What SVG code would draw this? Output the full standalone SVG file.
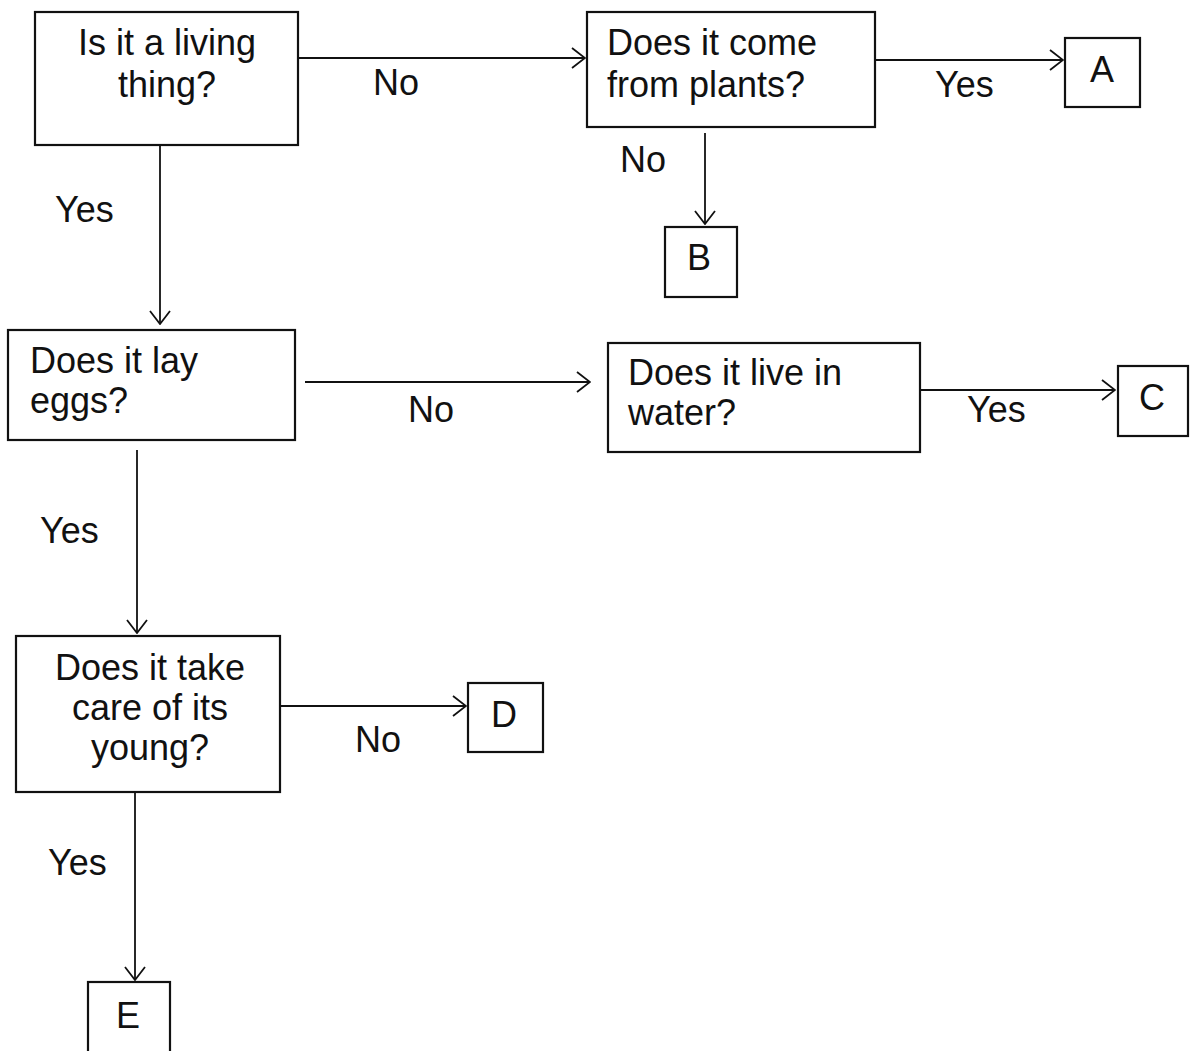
<svg xmlns="http://www.w3.org/2000/svg" width="1193" height="1051" viewBox="0 0 1193 1051">
<style>
.box{fill:#fff;stroke:#111;stroke-width:2.2}
.t{font-family:"Liberation Sans",Arial,sans-serif;font-size:36px;fill:#111}
.c{text-anchor:middle}
.edge{fill:none;stroke:#111;stroke-width:1.8}
</style>
<defs>
<marker id="ah" viewBox="0 0 15 22" refX="14" refY="11" markerWidth="15" markerHeight="22" markerUnits="userSpaceOnUse" orient="auto">
<path d="M1,1 L14,11 L1,21" fill="none" stroke="#111" stroke-width="1.8"/>
</marker>
</defs>
<rect width="1193" height="1051" fill="#fff"/>
<g id="connectors">
<line class="edge" x1="298" y1="58" x2="585" y2="58" marker-end="url(#ah)"/>
<text class="t" x="373" y="95">No</text>
<line class="edge" x1="875" y1="60" x2="1063" y2="60" marker-end="url(#ah)"/>
<text class="t" x="935" y="97">Yes</text>
<line class="edge" x1="705" y1="133" x2="705" y2="224" marker-end="url(#ah)"/>
<text class="t" x="620" y="172">No</text>
<line class="edge" x1="160" y1="145" x2="160" y2="324" marker-end="url(#ah)"/>
<text class="t" x="55" y="222">Yes</text>
<line class="edge" x1="305" y1="382" x2="590" y2="382" marker-end="url(#ah)"/>
<text class="t" x="408" y="422">No</text>
<line class="edge" x1="920" y1="390" x2="1115" y2="390" marker-end="url(#ah)"/>
<text class="t" x="967" y="422">Yes</text>
<line class="edge" x1="137" y1="450" x2="137" y2="633" marker-end="url(#ah)"/>
<text class="t" x="40" y="543">Yes</text>
<line class="edge" x1="280" y1="706" x2="466" y2="706" marker-end="url(#ah)"/>
<text class="t" x="355" y="752">No</text>
<line class="edge" x1="135" y1="792" x2="135" y2="980" marker-end="url(#ah)"/>
<text class="t" x="48" y="875">Yes</text>
</g>
<g id="n1">
<rect class="box" x="35" y="12" width="263" height="133"/>
<text class="t c" x="167" y="55">Is it a living</text>
<text class="t c" x="167" y="97">thing?</text>
</g>
<g id="n2">
<rect class="box" x="587" y="12" width="288" height="115"/>
<text class="t" x="607" y="55">Does it come</text>
<text class="t" x="607" y="97">from plants?</text>
</g>
<g id="nA">
<rect class="box" x="1065" y="38" width="75" height="69"/>
<text class="t c" x="1102" y="82">A</text>
</g>
<g id="nB">
<rect class="box" x="665" y="227" width="72" height="70"/>
<text class="t c" x="699" y="270">B</text>
</g>
<g id="n3">
<rect class="box" x="8" y="330" width="287" height="110"/>
<text class="t" x="30" y="373">Does it lay</text>
<text class="t" x="30" y="413">eggs?</text>
</g>
<g id="n4">
<rect class="box" x="608" y="343" width="312" height="109"/>
<text class="t" x="628" y="385">Does it live in</text>
<text class="t" x="628" y="425">water?</text>
</g>
<g id="nC">
<rect class="box" x="1118" y="366" width="70" height="70"/>
<text class="t c" x="1152" y="410">C</text>
</g>
<g id="n5">
<rect class="box" x="16" y="636" width="264" height="156"/>
<text class="t c" x="150" y="680">Does it take</text>
<text class="t c" x="150" y="720">care of its</text>
<text class="t c" x="150" y="760">young?</text>
</g>
<g id="nD">
<rect class="box" x="468" y="683" width="75" height="69"/>
<text class="t c" x="504" y="727">D</text>
</g>
<g id="nE">
<rect class="box" x="88" y="982" width="82" height="90"/>
<text class="t c" x="128" y="1028">E</text>
</g>
</svg>
